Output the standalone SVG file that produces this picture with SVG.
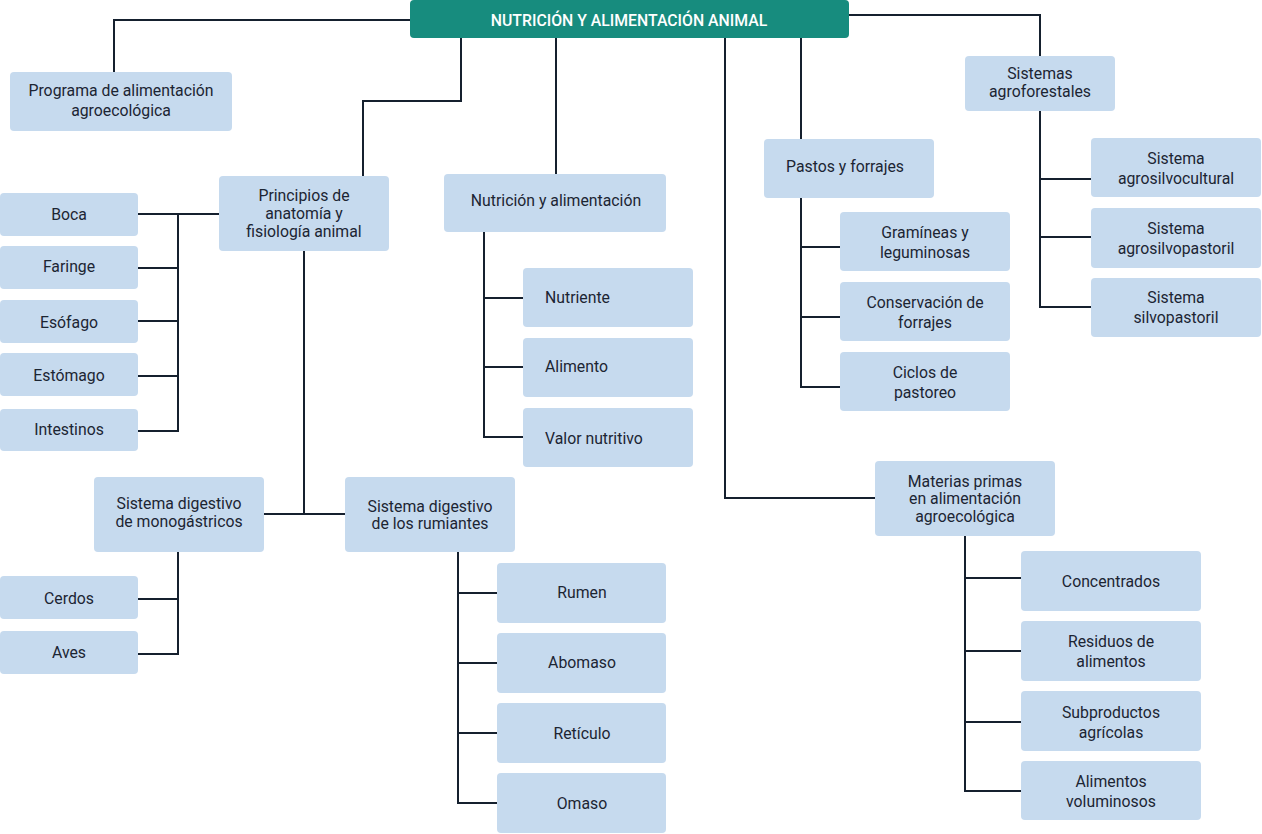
<svg xmlns="http://www.w3.org/2000/svg" width="1262" height="834" viewBox="0 0 1262 834">
<style>
.n rect{fill:#c6daee;}
.n text{font-family:Roboto,"Liberation Sans",sans-serif;font-size:15.8px;fill:#1c2533;text-anchor:middle;}
.n text.l{text-anchor:start;}
#root rect{fill:#178c7e;}
#root text{fill:#ffffff;font-size:15.8px;font-weight:500;}
#connectors path{fill:none;stroke:#15202e;stroke-width:2;}
</style>
<rect width="1262" height="834" fill="#ffffff"/>
<g id="connectors">
<path d="M410 20H114V72"/>
<path d="M461 38V101H363V176"/>
<path d="M556 38V174"/>
<path d="M725 38V498H875"/>
<path d="M801 38V139"/>
<path d="M849 15H1040V56"/>
<path d="M1040 111V307H1091M1040 179H1091M1040 237H1091"/>
<path d="M801 198V387H840M801 247H840M801 317H840"/>
<path d="M138 214H219M178 214V431H138M178 268H138M178 321H138M178 376H138"/>
<path d="M304 251V514M264 514H345"/>
<path d="M178 552V654H138M178 599H138"/>
<path d="M458 552V803H497M458 593H497M458 663H497M458 733H497"/>
<path d="M484 232V437H523M484 298H523M484 367H523"/>
<path d="M965 536V791H1021M965 578H1021M965 651H1021M965 722H1021"/>
</g>
<g id="root" class="n"><rect x="410" y="0" width="439" height="38" rx="4"/><text x="629" y="26">NUTRICIÓN Y ALIMENTACIÓN ANIMAL</text></g>
<g id="programa" class="n"><rect x="10" y="72" width="222" height="59" rx="4"/><text x="121" y="96">Programa de alimentación</text><text x="121" y="116">agroecológica</text></g>
<g id="principios" class="n"><rect x="219" y="176" width="170" height="75" rx="4"/><text x="304" y="201">Principios de</text><text x="304" y="219">anatomía y</text><text x="304" y="237">fisiología animal</text></g>
<g id="boca" class="n"><rect x="0" y="193" width="138" height="43" rx="4"/><text x="69" y="220">Boca</text></g>
<g id="faringe" class="n"><rect x="0" y="246" width="138" height="43" rx="4"/><text x="69" y="272">Faringe</text></g>
<g id="esofago" class="n"><rect x="0" y="300" width="138" height="43" rx="4"/><text x="69" y="328">Esófago</text></g>
<g id="estomago" class="n"><rect x="0" y="353" width="138" height="43" rx="4"/><text x="69" y="381">Estómago</text></g>
<g id="intestinos" class="n"><rect x="0" y="409" width="138" height="42" rx="4"/><text x="69" y="435">Intestinos</text></g>
<g id="monogastricos" class="n"><rect x="94" y="477" width="170" height="75" rx="4"/><text x="179" y="509">Sistema digestivo</text><text x="179" y="527">de monogástricos</text></g>
<g id="rumiantes" class="n"><rect x="345" y="477" width="170" height="75" rx="4"/><text x="430" y="512">Sistema digestivo</text><text x="430" y="529">de los rumiantes</text></g>
<g id="cerdos" class="n"><rect x="0" y="576" width="138" height="43" rx="4"/><text x="69" y="604">Cerdos</text></g>
<g id="aves" class="n"><rect x="0" y="631" width="138" height="43" rx="4"/><text x="69" y="658">Aves</text></g>
<g id="rumen" class="n"><rect x="497" y="563" width="169" height="60" rx="4"/><text x="582" y="598">Rumen</text></g>
<g id="abomaso" class="n"><rect x="497" y="633" width="169" height="60" rx="4"/><text x="582" y="668">Abomaso</text></g>
<g id="reticulo" class="n"><rect x="497" y="703" width="169" height="60" rx="4"/><text x="582" y="739">Retículo</text></g>
<g id="omaso" class="n"><rect x="497" y="773" width="169" height="60" rx="4"/><text x="582" y="809">Omaso</text></g>
<g id="nutricion" class="n"><rect x="444" y="174" width="222" height="58" rx="4"/><text x="556" y="206">Nutrición y alimentación</text></g>
<g id="nutriente" class="n"><rect x="523" y="268" width="170" height="59" rx="4"/><text class="l" x="545" y="303">Nutriente</text></g>
<g id="alimento" class="n"><rect x="523" y="338" width="170" height="59" rx="4"/><text class="l" x="545" y="372">Alimento</text></g>
<g id="valor" class="n"><rect x="523" y="408" width="170" height="59" rx="4"/><text class="l" x="545" y="444">Valor nutritivo</text></g>
<g id="pastos" class="n"><rect x="764" y="139" width="170" height="59" rx="4"/><text x="845" y="172">Pastos y forrajes</text></g>
<g id="gramineas" class="n"><rect x="840" y="212" width="170" height="59" rx="4"/><text x="925" y="238">Gramíneas y</text><text x="925" y="258">leguminosas</text></g>
<g id="conservacion" class="n"><rect x="840" y="282" width="170" height="59" rx="4"/><text x="925" y="308">Conservación de</text><text x="925" y="328">forrajes</text></g>
<g id="ciclos" class="n"><rect x="840" y="352" width="170" height="59" rx="4"/><text x="925" y="378">Ciclos de</text><text x="925" y="398">pastoreo</text></g>
<g id="agroforestales" class="n"><rect x="965" y="56" width="150" height="55" rx="4"/><text x="1040" y="79">Sistemas</text><text x="1040" y="97">agroforestales</text></g>
<g id="agrosilvocultural" class="n"><rect x="1091" y="138" width="170" height="59" rx="4"/><text x="1176" y="164">Sistema</text><text x="1176" y="184">agrosilvocultural</text></g>
<g id="agrosilvopastoril" class="n"><rect x="1091" y="208" width="170" height="60" rx="4"/><text x="1176" y="234">Sistema</text><text x="1176" y="254">agrosilvopastoril</text></g>
<g id="silvopastoril" class="n"><rect x="1091" y="278" width="170" height="59" rx="4"/><text x="1176" y="303">Sistema</text><text x="1176" y="323">silvopastoril</text></g>
<g id="materias" class="n"><rect x="875" y="461" width="180" height="75" rx="4"/><text x="965" y="487">Materias primas</text><text x="965" y="504">en alimentación</text><text x="965" y="522">agroecológica</text></g>
<g id="concentrados" class="n"><rect x="1021" y="551" width="180" height="60" rx="4"/><text x="1111" y="587">Concentrados</text></g>
<g id="residuos" class="n"><rect x="1021" y="621" width="180" height="60" rx="4"/><text x="1111" y="647">Residuos de</text><text x="1111" y="667">alimentos</text></g>
<g id="subproductos" class="n"><rect x="1021" y="691" width="180" height="60" rx="4"/><text x="1111" y="718">Subproductos</text><text x="1111" y="738">agrícolas</text></g>
<g id="voluminosos" class="n"><rect x="1021" y="761" width="180" height="59" rx="4"/><text x="1111" y="787">Alimentos</text><text x="1111" y="807">voluminosos</text></g>
</svg>
